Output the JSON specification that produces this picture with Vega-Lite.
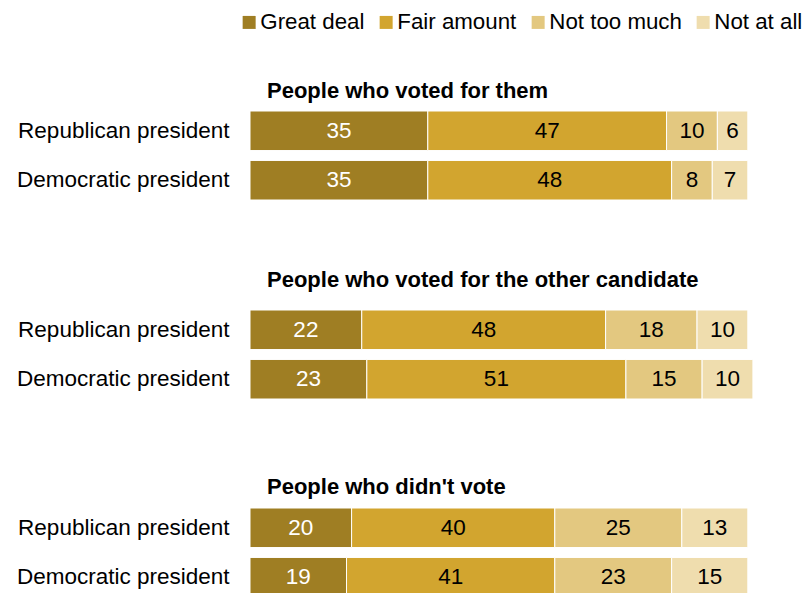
{
  "$schema": "https://vega.github.io/schema/vega-lite/v6.json",
  "padding": {"left": 0, "top": 11, "right": 0, "bottom": 0},
  "background": "white",
  "data": {"values": [
    {"group": "People who voted for them", "party": "Republican president", "category": "Great deal", "order": 1, "value": 35},
    {"group": "People who voted for them", "party": "Republican president", "category": "Fair amount", "order": 2, "value": 47},
    {"group": "People who voted for them", "party": "Republican president", "category": "Not too much", "order": 3, "value": 10},
    {"group": "People who voted for them", "party": "Republican president", "category": "Not at all", "order": 4, "value": 6},
    {"group": "People who voted for them", "party": "Democratic president", "category": "Great deal", "order": 1, "value": 35},
    {"group": "People who voted for them", "party": "Democratic president", "category": "Fair amount", "order": 2, "value": 48},
    {"group": "People who voted for them", "party": "Democratic president", "category": "Not too much", "order": 3, "value": 8},
    {"group": "People who voted for them", "party": "Democratic president", "category": "Not at all", "order": 4, "value": 7},
    {"group": "People who voted for the other candidate", "party": "Republican president", "category": "Great deal", "order": 1, "value": 22},
    {"group": "People who voted for the other candidate", "party": "Republican president", "category": "Fair amount", "order": 2, "value": 48},
    {"group": "People who voted for the other candidate", "party": "Republican president", "category": "Not too much", "order": 3, "value": 18},
    {"group": "People who voted for the other candidate", "party": "Republican president", "category": "Not at all", "order": 4, "value": 10},
    {"group": "People who voted for the other candidate", "party": "Democratic president", "category": "Great deal", "order": 1, "value": 23},
    {"group": "People who voted for the other candidate", "party": "Democratic president", "category": "Fair amount", "order": 2, "value": 51},
    {"group": "People who voted for the other candidate", "party": "Democratic president", "category": "Not too much", "order": 3, "value": 15},
    {"group": "People who voted for the other candidate", "party": "Democratic president", "category": "Not at all", "order": 4, "value": 10},
    {"group": "People who didn't vote", "party": "Republican president", "category": "Great deal", "order": 1, "value": 20},
    {"group": "People who didn't vote", "party": "Republican president", "category": "Fair amount", "order": 2, "value": 40},
    {"group": "People who didn't vote", "party": "Republican president", "category": "Not too much", "order": 3, "value": 25},
    {"group": "People who didn't vote", "party": "Republican president", "category": "Not at all", "order": 4, "value": 13},
    {"group": "People who didn't vote", "party": "Democratic president", "category": "Great deal", "order": 1, "value": 19},
    {"group": "People who didn't vote", "party": "Democratic president", "category": "Fair amount", "order": 2, "value": 41},
    {"group": "People who didn't vote", "party": "Democratic president", "category": "Not too much", "order": 3, "value": 23},
    {"group": "People who didn't vote", "party": "Democratic president", "category": "Not at all", "order": 4, "value": 15}
  ]},
  "spacing": 76,
  "vconcat": [
    {
      "spacing": 67,
      "vconcat": [
        {
          "title": {"text": "People who voted for them", "offset": 8},
          "width": 508, "height": 89,
          "transform": [
            {"filter": "datum.group === 'People who voted for them'"},
            {"stack": "value", "groupby": ["group", "party"], "sort": [{"field": "order", "order": "ascending"}], "as": ["v0", "v1"]},
            {"calculate": "(datum.v0 + datum.v1) / 2", "as": "mid"}
          ],
          "encoding": {
            "y": {"field": "party", "type": "nominal", "sort": ["Republican president", "Democratic president"], "scale": {"paddingInner": 0.2, "paddingOuter": 0}}
          },
          "layer": [
            {"mark": {"type": "bar", "stroke": "white", "strokeWidth": 1},
             "encoding": {
               "x": {"field": "v0", "type": "quantitative", "scale": {"domain": [0, 100]}, "axis": null},
               "x2": {"field": "v1"},
               "color": {"field": "category", "type": "nominal", "scale": {"domain": ["Great deal", "Fair amount", "Not too much", "Not at all"], "range": ["#9F7E23", "#D2A52F", "#E3C880", "#EFDDAE"]},
                 "legend": {"orient": "none", "legendX": -12, "legendY": -100, "direction": "horizontal", "title": null}}
             }},
            {"mark": {"type": "text", "fontSize": 22.5, "font": "Liberation Sans"},
             "encoding": {
               "x": {"field": "mid", "type": "quantitative", "scale": {"domain": [0, 100]}},
               "text": {"field": "value", "type": "quantitative"},
               "color": {"condition": {"test": "datum.category === 'Great deal'", "value": "white"}, "value": "#000000"}
             }}
          ]
        },
        {
          "title": {"text": "People who voted for the other candidate", "offset": 18},
          "width": 508, "height": 89,
          "transform": [
            {"filter": "datum.group === 'People who voted for the other candidate'"},
            {"stack": "value", "groupby": ["group", "party"], "sort": [{"field": "order", "order": "ascending"}], "as": ["v0", "v1"]},
            {"calculate": "(datum.v0 + datum.v1) / 2", "as": "mid"}
          ],
          "encoding": {
            "y": {"field": "party", "type": "nominal", "sort": ["Republican president", "Democratic president"], "scale": {"paddingInner": 0.2, "paddingOuter": 0}}
          },
          "layer": [
            {"mark": {"type": "bar", "stroke": "white", "strokeWidth": 1},
             "encoding": {
               "x": {"field": "v0", "type": "quantitative", "scale": {"domain": [0, 100]}, "axis": null},
               "x2": {"field": "v1"},
               "color": {"field": "category", "type": "nominal", "scale": {"domain": ["Great deal", "Fair amount", "Not too much", "Not at all"], "range": ["#9F7E23", "#D2A52F", "#E3C880", "#EFDDAE"]},
                 "legend": {"orient": "none", "legendX": -12, "legendY": -100, "direction": "horizontal", "title": null}}
             }},
            {"mark": {"type": "text", "fontSize": 22.5, "font": "Liberation Sans"},
             "encoding": {
               "x": {"field": "mid", "type": "quantitative", "scale": {"domain": [0, 100]}},
               "text": {"field": "value", "type": "quantitative"},
               "color": {"condition": {"test": "datum.category === 'Great deal'", "value": "white"}, "value": "#000000"}
             }}
          ]
        }
      ]
    },
    {
      "title": {"text": "People who didn't vote", "offset": 8.5},
      "width": 508, "height": 89,
      "transform": [
        {"filter": "datum.group === \"People who didn't vote\""},
        {"stack": "value", "groupby": ["group", "party"], "sort": [{"field": "order", "order": "ascending"}], "as": ["v0", "v1"]},
        {"calculate": "(datum.v0 + datum.v1) / 2", "as": "mid"}
      ],
      "encoding": {
        "y": {"field": "party", "type": "nominal", "sort": ["Republican president", "Democratic president"], "scale": {"paddingInner": 0.2, "paddingOuter": 0}}
      },
      "layer": [
        {"mark": {"type": "bar", "stroke": "white", "strokeWidth": 1},
         "encoding": {
           "x": {"field": "v0", "type": "quantitative", "scale": {"domain": [0, 100]}, "axis": null},
           "x2": {"field": "v1"},
           "color": {"field": "category", "type": "nominal", "scale": {"domain": ["Great deal", "Fair amount", "Not too much", "Not at all"], "range": ["#9F7E23", "#D2A52F", "#E3C880", "#EFDDAE"]},
             "legend": {"orient": "none", "legendX": -12, "legendY": -100, "direction": "horizontal", "title": null}}
         }},
        {"mark": {"type": "text", "fontSize": 22.5, "font": "Liberation Sans"},
         "encoding": {
           "x": {"field": "mid", "type": "quantitative", "scale": {"domain": [0, 100]}},
           "text": {"field": "value", "type": "quantitative"},
           "color": {"condition": {"test": "datum.category === 'Great deal'", "value": "white"}, "value": "#000000"}
         }}
      ]
    }
  ],
  "config": {
    "view": {"stroke": null},
    "font": "Liberation Sans",
    "title": {"anchor": "start", "frame": "group", "dx": 17, "fontSize": 22, "fontWeight": "bold", "font": "Liberation Sans", "color": "#000000"},
    "axisY": {"title": null, "domain": false, "ticks": false, "labelFontSize": 22.5, "labelFont": "Liberation Sans", "labelColor": "#000000", "labelPadding": 21, "labelLimit": 300, "minExtent": 250, "maxExtent": 250},
    "legend": {"symbolType": "square", "symbolSize": 169, "symbolStrokeWidth": 0, "labelFontSize": 22.3, "labelFont": "Liberation Sans", "labelColor": "#000000", "labelOffset": 0, "columnPadding": 10, "symbolOpacity": 1}
  }
}
